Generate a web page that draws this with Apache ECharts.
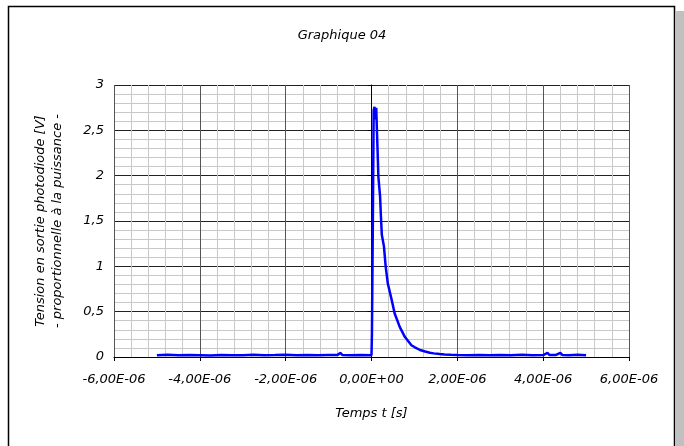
<!DOCTYPE html>
<html>
<head>
<meta charset="utf-8">
<script src="https://cdn.jsdelivr.net/npm/echarts@6/dist/echarts.min.js"></script>
<style>
  html, body { margin: 0; padding: 0; background: #fff; }
  #main { width: 684px; height: 446px; }
</style>
</head>
<body>
<div id="main"></div>
<script>
// time in microseconds, tension in volts
var timeUs = [
  -5.0, -4.75, -4.5, -4.25, -4.0, -3.75, -3.5, -3.25, -3.0, -2.75,
  -2.5, -2.25, -2.0, -1.75, -1.5, -1.25, -1.0, -0.8, -0.72, -0.68,
  -0.5, -0.25, 0.0,
  0.01, 0.03, 0.05, 0.07, 0.09, 0.11, 0.14, 0.16, 0.2, 0.22,
  0.24, 0.29, 0.33, 0.38, 0.47, 0.54, 0.66, 0.78, 0.93, 1.0,
  1.13, 1.25, 1.36, 1.45, 1.59, 1.7, 1.85, 2.0,
  2.25, 2.5, 2.75, 3.0, 3.25, 3.5, 3.75, 4.0, 4.1, 4.15,
  4.3, 4.4, 4.45, 4.6, 4.8, 5.0
];
var tension = [
  0.020, 0.025, 0.018, 0.022, 0.020, 0.017, 0.023, 0.020, 0.019, 0.024,
  0.018, 0.021, 0.025, 0.020, 0.022, 0.019, 0.023, 0.021, 0.045, 0.022,
  0.020, 0.023, 0.020,
  0.25, 1.40, 2.72, 2.76, 2.62, 2.75, 2.30, 1.99, 1.77, 1.55,
  1.35, 1.22, 1.00, 0.81, 0.63, 0.48, 0.33, 0.22, 0.13, 0.11,
  0.077, 0.06, 0.047, 0.04, 0.033, 0.028, 0.024, 0.021,
  0.020, 0.023, 0.019, 0.022, 0.020, 0.024, 0.019, 0.022, 0.045, 0.021,
  0.023, 0.046, 0.022, 0.020, 0.024, 0.018
];
var chartTitle = 'Graphique 04';
var xName = 'Temps t [s]';
var yName = 'Tension en sortie photodiode [V]\n- proportionnelle à la puissance -';

var points = timeUs.map(function (t, i) { return [t * 1e-6, tension[i]]; });

var font = 'DejaVu Sans';

function sciLabel (v) {
  if (Math.abs(v) < 1e-12) return '0,00E+00';
  var s = v.toExponential(2);
  var parts = s.split('e');
  var exp = parseInt(parts[1], 10);
  var sign = exp < 0 ? '-' : '+';
  var e = Math.abs(exp);
  return parts[0].replace('.', ',') + 'E' + sign + (e < 10 ? '0' + e : e);
}

var chart = echarts.init(document.getElementById('main'));
chart.setOption({
  animation: false,
  title: {
    text: chartTitle,
    left: 'center',
    top: 24,
    textStyle: { fontFamily: font, fontStyle: 'italic', fontWeight: 'normal', fontSize: 13, color: '#000' }
  },
  graphic: [
    { type: 'rect', shape: { x: 676, y: 11, width: 8, height: 440 }, style: { fill: '#c0c0c0' }, silent: true },
    { type: 'rect', shape: { x: 8.5, y: 6.5, width: 666, height: 450 }, style: { fill: 'none', stroke: '#000', lineWidth: 1.5 }, silent: true }
  ],
  grid: { left: 114, right: 55, top: 85, bottom: 89 },
  xAxis: {
    type: 'value',
    min: -6e-6,
    max: 6e-6,
    interval: 2e-6,
    name: xName,
    nameLocation: 'middle',
    nameGap: 50,
    nameTextStyle: { fontFamily: font, fontStyle: 'italic', fontSize: 13, color: '#000' },
    axisLine: { onZero: false, lineStyle: { color: '#000', width: 1 } },
    axisTick: { show: true, length: 4, lineStyle: { color: '#000' } },
    axisLabel: { formatter: sciLabel, margin: 16, fontFamily: font, fontStyle: 'italic', fontSize: 13, color: '#000' },
    splitLine: { show: true, lineStyle: { color: '#555', width: 1 } },
    minorTick: { show: false, splitNumber: 5 },
    minorSplitLine: { show: true, lineStyle: { color: '#c8c8c8', width: 1 } }
  },
  yAxis: {
    type: 'value',
    min: 0,
    max: 3,
    interval: 0.5,
    name: yName,
    nameLocation: 'middle',
    nameRotate: 90,
    nameGap: 48,
    nameTextStyle: { fontFamily: font, fontStyle: 'italic', fontSize: 13, color: '#000', lineHeight: 17 },
    axisLine: { show: true, lineStyle: { color: '#000', width: 1 } },
    axisTick: { show: true, length: 4, lineStyle: { color: '#000' } },
    axisLabel: {
      formatter: function (v) { return String(v).replace('.', ','); },
      margin: 10,
      fontFamily: font, fontStyle: 'italic', fontSize: 13, color: '#000'
    },
    splitLine: { show: true, lineStyle: { color: '#222', width: 1 } },
    minorTick: { show: false, splitNumber: 5 },
    minorSplitLine: { show: true, lineStyle: { color: '#c8c8c8', width: 1 } }
  },
  series: [{
    type: 'line',
    data: points,
    showSymbol: false,
    symbol: 'none',
    lineStyle: { color: '#0000ff', width: 2.5 },
    itemStyle: { color: '#0000ff' }
  }]
});
</script>
</body>
</html>
